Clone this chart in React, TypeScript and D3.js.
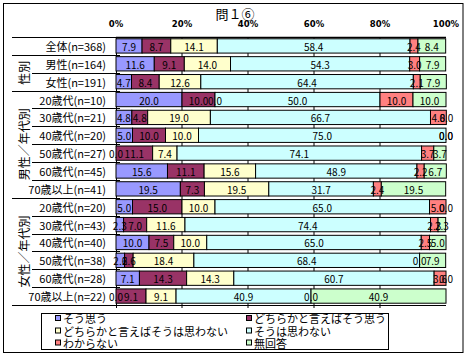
import React from "react";
import * as d3 from "d3";

const title = "問１⑥";
const rowLabels = [
  "全体(n=368)",
  "男性(n=164)",
  "女性(n=191)",
  "20歳代(n=10)",
  "30歳代(n=21)",
  "40歳代(n=20)",
  "50歳代(n=27)",
  "60歳代(n=45)",
  "70歳以上(n=41)",
  "20歳代(n=20)",
  "30歳代(n=43)",
  "40歳代(n=40)",
  "50歳代(n=38)",
  "60歳代(n=28)",
  "70歳以上(n=22)",
];
const seriesNames = [
  "そう思う",
  "どちらかと言えばそう思う",
  "どちらかと言えばそうは思わない",
  "そうは思わない",
  "わからない",
  "無回答",
];
const seriesColors = ["#9999FF", "#993366", "#FFFFCC", "#CCFFFF", "#FF8080", "#CCFFCC"];

const soOmou = [7.9, 11.6, 4.7, 20.0, 4.8, 5.0, 0.0, 15.6, 19.5, 5.0, 2.3, 10.0, 2.6, 7.1, 0.0];
const docchikaSo = [8.7, 9.1, 8.4, 10.0, 4.8, 10.0, 11.1, 11.1, 7.3, 15.0, 7.0, 7.5, 2.6, 14.3, 9.1];
const docchikaNot = [14.1, 14.0, 12.6, 0.0, 19.0, 10.0, 7.4, 15.6, 19.5, 10.0, 11.6, 10.0, 18.4, 14.3, 9.1];
const soNot = [58.4, 54.3, 64.4, 50.0, 66.7, 75.0, 74.1, 48.9, 31.7, 65.0, 74.4, 65.0, 68.4, 60.7, 40.9];
const wakaranai = [2.4, 3.0, 2.1, 10.0, 4.8, 0.0, 3.7, 2.2, 2.4, 5.0, 2.3, 2.5, 0.0, 3.6, 0.0];
const mukaitou = [8.4, 7.9, 7.9, 10.0, 0.0, 0.0, 3.7, 6.7, 19.5, 0.0, 2.3, 5.0, 7.9, 0.0, 40.9];

const seriesValues = [soOmou, docchikaSo, docchikaNot, soNot, wakaranai, mukaitou];
const tickValues = [0, 20, 40, 60, 80, 100];

const groups = [
  { label: "性別", from: 1, to: 3 },
  { label: "男性／年代別", from: 3, to: 9 },
  { label: "女性／年代別", from: 9, to: 15 },
];
const groupBoundaries = [0, 1, 3, 9, 15];

const JP = "'Noto Sans CJK JP', 'Noto Sans', sans-serif";

export default function App() {
  const W = 467;
  const H = 357;
  const x = d3.scaleLinear().domain([0, 100]).range([116, 446]);
  const y = d3
    .scaleBand<number>()
    .domain(d3.range(rowLabels.length))
    .range([37, 305])
    .paddingInner(0.2)
    .paddingOuter(0.1);
  const step = y.step();
  const top = 37;
  const bottom = 305;
  const boundaryY = (i: number) => top + i * step * (1) + 0 * 0;

  const rows = rowLabels.map((label, i) => {
    let cum = 0;
    const segs = seriesValues.map((vals, s) => {
      const v = vals[i];
      const x0 = cum;
      cum += v;
      return { s, v, x0, x1: cum };
    });
    return { label, i, segs };
  });

  const legendCols = [55, 246];
  const legendRows = [318, 330.5, 342.5];

  return (
    <svg width={W} height={H} style={{ position: "absolute", left: 0, top: 0 }}>
      <rect x={0} y={0} width={W} height={H} fill="#fff" />
      <rect x={3.5} y={3.5} width={459.5} height={349} fill="none" stroke="#000" strokeWidth={1} />
      <text x={235} y={13} textAnchor="middle" dominantBaseline="central" fontFamily={JP} fontSize={13}>
        {title}
      </text>
      {tickValues.map((t) => (
        <text
          key={"t" + t}
          x={x(t)}
          y={23.5}
          textAnchor="middle"
          dominantBaseline="central"
          fontFamily="'DejaVu Sans', sans-serif"
          fontWeight="bold"
          fontSize={8.5}
        >
          {t}%
        </text>
      ))}
      {/* gridlines */}
      {tickValues.slice(1, 5).map((t) => (
        <line key={"g" + t} x1={x(t)} x2={x(t)} y1={top} y2={bottom + 3} stroke="#000" strokeWidth={1} />
      ))}
      <line x1={x(0) + 0.5} x2={x(0) + 0.5} y1={top} y2={bottom + 3} stroke="#000" />
      {/* left table lines */}
      {d3.range(rowLabels.length + 1).map((i) => {
        const yy = Math.round(boundaryY(i)) + 0.5;
        const isGroup = groupBoundaries.includes(i);
        return (
          <g key={"b" + i}>
            <line x1={isGroup ? 12 : 32} x2={116} y1={yy} y2={yy} stroke="#000" />
            <line x1={116} x2={120} y1={yy} y2={yy} stroke="#000" />
          </g>
        );
      })}
      <line x1={116} x2={446} y1={top + 0.5} y2={top + 0.5} stroke="#000" strokeWidth={1.5} />
      <line x1={116} x2={446} y1={bottom + 0.5} y2={bottom + 0.5} stroke="#000" />
      {/* bars */}
      {rows.map((r) => (
        <g key={"r" + r.i}>
          {r.segs.map((sg) => (
            <rect
              key={sg.s}
              x={x(sg.x0)}
              y={y(r.i)!}
              width={Math.max(0, x(sg.x1) - x(sg.x0))}
              height={y.bandwidth()}
              fill={seriesColors[sg.s]}
              stroke="#000"
              strokeWidth={1}
            />
          ))}
        </g>
      ))}
      {rows.map((r) => (
        <g key={"l" + r.i}>
          {r.segs.map((sg) => (
            <text
              key={sg.s}
              x={(x(sg.x0) + x(sg.x1)) / 2}
              y={y(r.i)! + y.bandwidth() / 2 + 0.5}
              textAnchor="middle"
              dominantBaseline="central"
              fontFamily={JP}
              fontSize={10}
            >
              {sg.v.toFixed(1)}
            </text>
          ))}
          <text
            x={106}
            y={y(r.i)! + y.bandwidth() / 2}
            textAnchor="end"
            dominantBaseline="central"
            fontFamily={JP}
            fontSize={11}
          >
            {r.label}
          </text>
        </g>
      ))}
      {groups.map((g) => {
        const cy = (boundaryY(g.from) + boundaryY(g.to)) / 2;
        return (
          <text
            key={g.label}
            x={0}
            y={0}
            transform={`translate(23,${cy}) rotate(-90)`}
            textAnchor="middle"
            dominantBaseline="central"
            fontFamily={JP}
            fontSize={12}
          >
            {g.label}
          </text>
        );
      })}
      {/* legend */}
      <rect x={41.5} y={313.5} width={347} height={36} fill="#fff" stroke="#000" />
      {seriesNames.map((n, i) => {
        const cx = legendCols[i % 2];
        const cy = legendRows[Math.floor(i / 2)];
        return (
          <g key={n}>
            <rect x={cx + 0.5} y={cy - 2.5} width={5} height={5} fill={seriesColors[i]} stroke="#000" />
            <text x={cx + 8} y={cy} dominantBaseline="central" fontFamily={JP} fontSize={11}>
              {n}
            </text>
          </g>
        );
      })}
    </svg>
  );
}
